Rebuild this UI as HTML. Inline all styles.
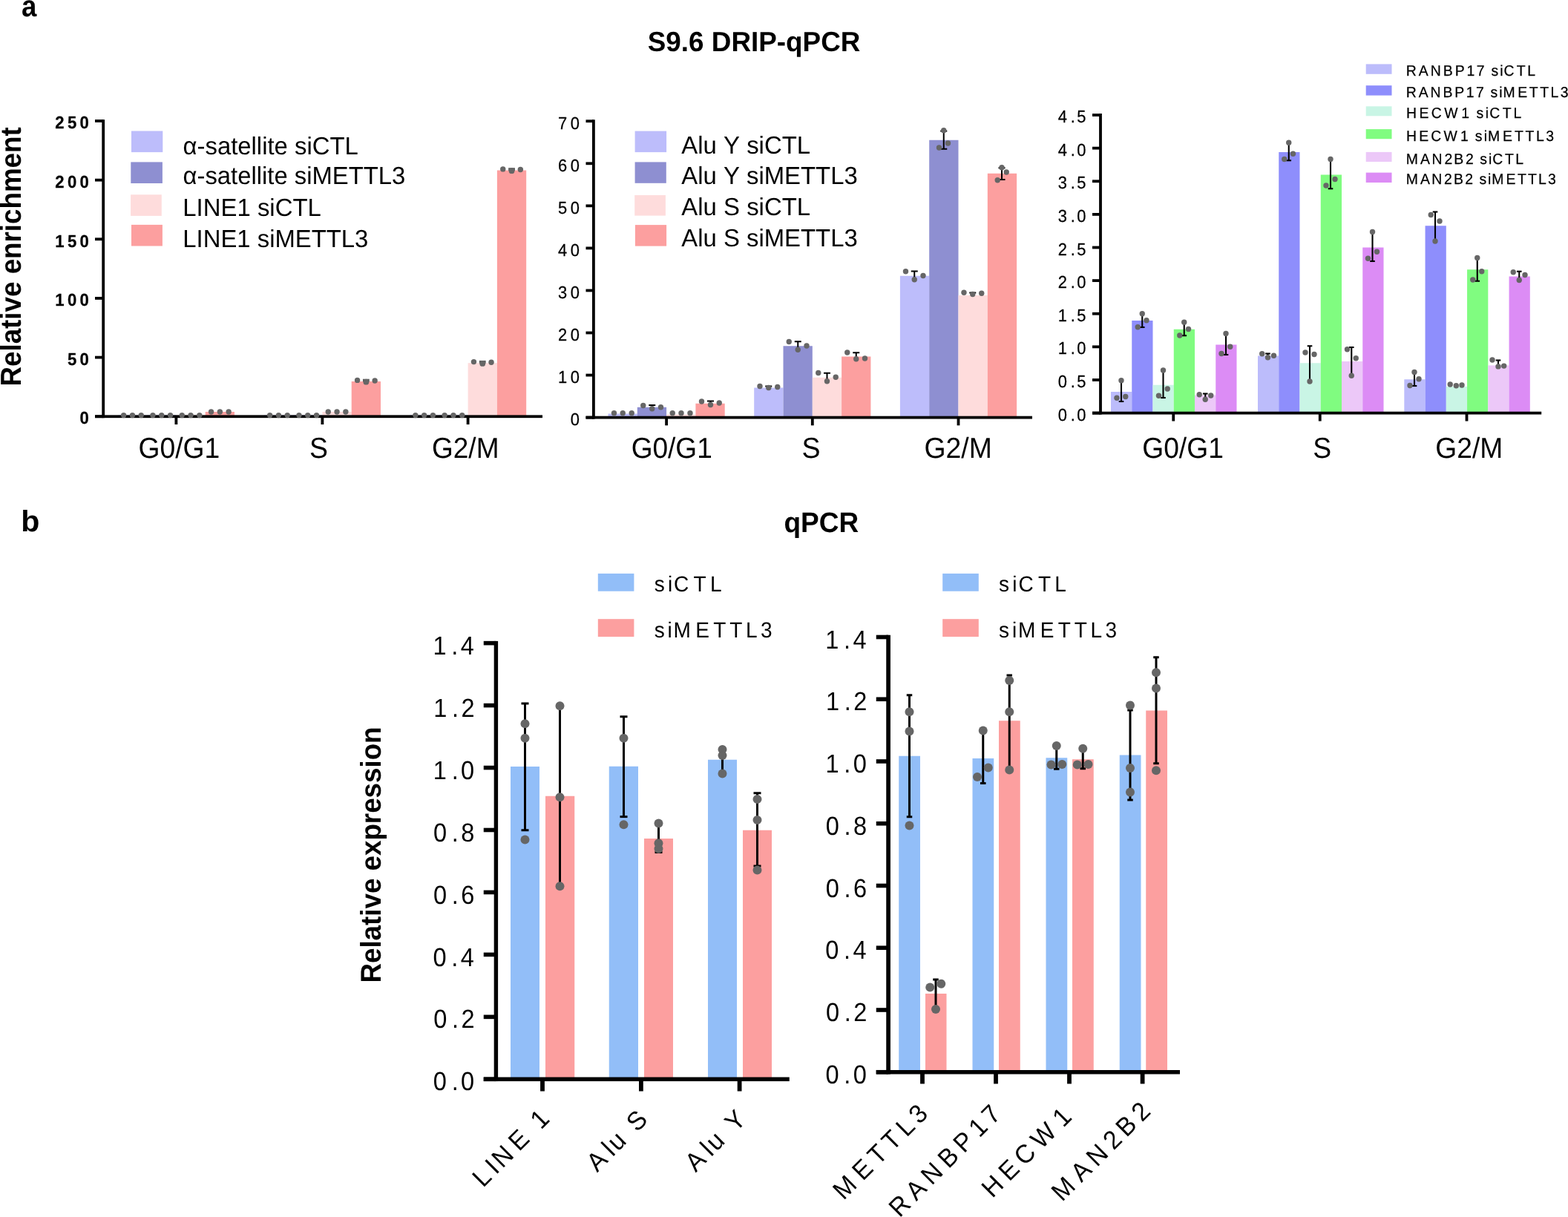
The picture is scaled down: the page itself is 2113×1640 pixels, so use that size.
<!DOCTYPE html>
<html lang="en">
<head>
<meta charset="utf-8">
<title>S9.6 DRIP-qPCR and qPCR</title>
<style>
html,body{margin:0;padding:0;background:#fff;}
body{width:2113px;height:1640px;overflow:hidden;}
svg{display:block;font-family:'Liberation Sans',Arial,Helvetica,sans-serif;fill:#000;font-kerning:none;text-rendering:geometricPrecision;}
text.s{stroke:#000;stroke-width:0.25px;stroke-linejoin:round;}
</style>
</head>
<body>
<svg width="2113" height="1640" viewBox="0 0 2113 1640">
<rect x="0" y="0" width="2113" height="1640" fill="#ffffff"/>
<text transform="translate(28.9 21.9) scale(0.9064 1)" font-size="40.4" font-weight="bold">a</text>
<text transform="translate(28.32 716.4) scale(1.0246 1)" font-size="40.2" font-weight="bold">b</text>
<text transform="translate(872.79 68.7) scale(0.9802 1)" font-size="37.6" font-weight="bold">S9.6 DRIP-qPCR</text>
<text transform="translate(1056.42 717) scale(0.9735 1)" font-size="38" font-weight="bold">qPCR</text>
<rect x="158.8" y="559.5" width="39.3" height="1.75" fill="#BDBDFB"/>
<rect x="198.1" y="559.5" width="39.3" height="1.75" fill="#8E8FD1"/>
<rect x="237.4" y="559.5" width="39.3" height="1.75" fill="#FEDCDC"/>
<rect x="276.7" y="555" width="39.3" height="6.25" fill="#FC9F9F"/>
<rect x="355.8" y="559.5" width="39.3" height="1.75" fill="#BDBDFB"/>
<rect x="395.1" y="559.5" width="39.3" height="1.75" fill="#8E8FD1"/>
<rect x="434.4" y="555" width="39.3" height="6.25" fill="#FEDCDC"/>
<rect x="473.7" y="514" width="39.3" height="47.25" fill="#FC9F9F"/>
<rect x="552" y="559.5" width="39.3" height="1.75" fill="#BDBDFB"/>
<rect x="591.3" y="559.5" width="39.3" height="1.75" fill="#8E8FD1"/>
<rect x="630.6" y="489.2" width="39.3" height="72.05" fill="#FEDCDC"/>
<rect x="669.9" y="229.5" width="39.3" height="331.75" fill="#FC9F9F"/>
<rect x="137.3" y="161.2" width="3.8" height="401.95" fill="#000"/>
<rect x="128" y="559.35" width="603" height="3.8" fill="#000"/>
<rect x="128" y="559.35" width="11.2" height="3.8" fill="#000"/>
<text class="s" transform="translate(107.5 571.45) scale(0.9500 1)" font-size="23.3" font-weight="bold" x="0">0</text>
<rect x="128" y="479.7" width="11.2" height="3.8" fill="#000"/>
<text class="s" transform="translate(90.91 491.8) scale(0.9500 1)" font-size="23.3" font-weight="bold" x="0 17.46">50</text>
<rect x="128" y="400.05" width="11.2" height="3.8" fill="#000"/>
<text class="s" transform="translate(74.33 412.15) scale(0.9500 1)" font-size="23.3" font-weight="bold" x="0 17.46 34.92">100</text>
<rect x="128" y="320.4" width="11.2" height="3.8" fill="#000"/>
<text class="s" transform="translate(74.33 332.5) scale(0.9500 1)" font-size="23.3" font-weight="bold" x="0 17.46 34.92">150</text>
<rect x="128" y="240.75" width="11.2" height="3.8" fill="#000"/>
<text class="s" transform="translate(74.33 252.85) scale(0.9500 1)" font-size="23.3" font-weight="bold" x="0 17.46 34.92">200</text>
<rect x="128" y="161.1" width="11.2" height="3.8" fill="#000"/>
<text class="s" transform="translate(74.33 173.2) scale(0.9500 1)" font-size="23.3" font-weight="bold" x="0 17.46 34.92">250</text>
<rect x="235.5" y="561.25" width="3.8" height="10.75" fill="#000"/>
<rect x="432.5" y="561.25" width="3.8" height="10.75" fill="#000"/>
<rect x="628.7" y="561.25" width="3.8" height="10.75" fill="#000"/>
<circle cx="166.65" cy="559.6" r="3.7" fill="#666666"/>
<circle cx="178.45" cy="559.6" r="3.7" fill="#666666"/>
<circle cx="190.25" cy="559.6" r="3.7" fill="#666666"/>
<circle cx="205.95" cy="559.6" r="3.7" fill="#666666"/>
<circle cx="217.75" cy="559.6" r="3.7" fill="#666666"/>
<circle cx="229.55" cy="559.6" r="3.7" fill="#666666"/>
<circle cx="245.25" cy="559.6" r="3.7" fill="#666666"/>
<circle cx="257.05" cy="559.6" r="3.7" fill="#666666"/>
<circle cx="268.85" cy="559.6" r="3.7" fill="#666666"/>
<circle cx="284.55" cy="555" r="3.7" fill="#666666"/>
<circle cx="296.35" cy="555" r="3.7" fill="#666666"/>
<circle cx="308.15" cy="555" r="3.7" fill="#666666"/>
<circle cx="363.65" cy="559.6" r="3.7" fill="#666666"/>
<circle cx="375.45" cy="559.6" r="3.7" fill="#666666"/>
<circle cx="387.25" cy="559.6" r="3.7" fill="#666666"/>
<circle cx="402.95" cy="559.6" r="3.7" fill="#666666"/>
<circle cx="414.75" cy="559.6" r="3.7" fill="#666666"/>
<circle cx="426.55" cy="559.6" r="3.7" fill="#666666"/>
<circle cx="442.25" cy="555" r="3.7" fill="#666666"/>
<circle cx="454.05" cy="555" r="3.7" fill="#666666"/>
<circle cx="465.85" cy="555" r="3.7" fill="#666666"/>
<circle cx="481.55" cy="512.4" r="3.7" fill="#666666"/>
<rect x="488.95" y="510.7" width="8.8" height="3.9" fill="#5c5c5c"/>
<circle cx="493.35" cy="514.7" r="3.9" fill="#666666"/>
<circle cx="505.15" cy="513" r="3.7" fill="#666666"/>
<circle cx="559.85" cy="559.6" r="3.7" fill="#666666"/>
<circle cx="571.65" cy="559.6" r="3.7" fill="#666666"/>
<circle cx="583.45" cy="559.6" r="3.7" fill="#666666"/>
<circle cx="599.15" cy="559.6" r="3.7" fill="#666666"/>
<circle cx="610.95" cy="559.6" r="3.7" fill="#666666"/>
<circle cx="622.75" cy="559.6" r="3.7" fill="#666666"/>
<circle cx="638.45" cy="487.6" r="3.7" fill="#666666"/>
<rect x="645.85" y="485.9" width="8.8" height="3.9" fill="#5c5c5c"/>
<circle cx="650.25" cy="489.9" r="3.9" fill="#666666"/>
<circle cx="662.05" cy="488.2" r="3.7" fill="#666666"/>
<circle cx="677.75" cy="227.9" r="3.7" fill="#666666"/>
<rect x="685.15" y="226.2" width="8.8" height="3.9" fill="#5c5c5c"/>
<circle cx="689.55" cy="230.2" r="3.9" fill="#666666"/>
<circle cx="701.35" cy="228.5" r="3.7" fill="#666666"/>
<text transform="translate(186.54 617.2) scale(0.9549 1)" font-size="39">G0/G1</text>
<text transform="translate(417.02 617.2) scale(0.9588 1)" font-size="39">S</text>
<text transform="translate(582.05 617.2) scale(0.9479 1)" font-size="39">G2/M</text>
<rect x="177" y="176.5" width="42.3" height="28.6" fill="#BDBDFB"/>
<text transform="translate(246.5 207.5) scale(0.9871 1)" font-size="33.3">α-satellite siCTL</text>
<rect x="176.3" y="218.4" width="42.6" height="28.6" fill="#8E8FD1"/>
<text transform="translate(246.51 248.2) scale(0.9857 1)" font-size="33.3">α-satellite siMETTL3</text>
<rect x="176.1" y="262.3" width="41.7" height="28.6" fill="#FEDCDC"/>
<text transform="translate(246.28 290.6) scale(0.9886 1)" font-size="33.3">LINE1 siCTL</text>
<rect x="177" y="302.9" width="41.9" height="28.6" fill="#FC9F9F"/>
<text transform="translate(246.29 332.8) scale(0.9865 1)" font-size="33.3">LINE1 siMETTL3</text>
<text transform="translate(27.96 520.48) rotate(-90) scale(0.9420 1)" font-size="39" font-weight="bold">Relative enrichment</text>
<rect x="819.5" y="557.5" width="39.3" height="5.1" fill="#BDBDFB"/>
<rect x="858.8" y="548.75" width="39.3" height="13.85" fill="#8E8FD1"/>
<rect x="898.1" y="558.5" width="39.3" height="4.1" fill="#FEDCDC"/>
<rect x="937.4" y="543.75" width="39.3" height="18.85" fill="#FC9F9F"/>
<rect x="1016.2" y="522.5" width="39.3" height="40.1" fill="#BDBDFB"/>
<rect x="1055.5" y="466.25" width="39.3" height="96.35" fill="#8E8FD1"/>
<rect x="1094.8" y="508.75" width="39.3" height="53.85" fill="#FEDCDC"/>
<rect x="1134.1" y="480.5" width="39.3" height="82.1" fill="#FC9F9F"/>
<rect x="1212.9" y="371.75" width="39.3" height="190.85" fill="#BDBDFB"/>
<rect x="1252.2" y="188.75" width="39.3" height="373.85" fill="#8E8FD1"/>
<rect x="1291.5" y="398" width="39.3" height="164.6" fill="#FEDCDC"/>
<rect x="1330.8" y="233.75" width="39.3" height="328.85" fill="#FC9F9F"/>
<rect x="798" y="161.3" width="3.8" height="403.2" fill="#000"/>
<rect x="789.5" y="560.7" width="601.5" height="3.8" fill="#000"/>
<rect x="789.5" y="560.7" width="10.4" height="3.8" fill="#000"/>
<text class="s" transform="translate(768.87 572.9) scale(0.9400 1)" font-size="23.3" x="0">0</text>
<rect x="789.5" y="503.65" width="10.4" height="3.8" fill="#000"/>
<text class="s" transform="translate(752.05 515.85) scale(0.9400 1)" font-size="23.3" x="0 17.89">10</text>
<rect x="789.5" y="446.6" width="10.4" height="3.8" fill="#000"/>
<text class="s" transform="translate(752.05 458.8) scale(0.9400 1)" font-size="23.3" x="0 17.89">20</text>
<rect x="789.5" y="389.55" width="10.4" height="3.8" fill="#000"/>
<text class="s" transform="translate(752.05 401.75) scale(0.9400 1)" font-size="23.3" x="0 17.89">30</text>
<rect x="789.5" y="332.5" width="10.4" height="3.8" fill="#000"/>
<text class="s" transform="translate(752.05 344.7) scale(0.9400 1)" font-size="23.3" x="0 17.89">40</text>
<rect x="789.5" y="275.45" width="10.4" height="3.8" fill="#000"/>
<text class="s" transform="translate(752.05 287.65) scale(0.9400 1)" font-size="23.3" x="0 17.89">50</text>
<rect x="789.5" y="218.4" width="10.4" height="3.8" fill="#000"/>
<text class="s" transform="translate(752.05 230.6) scale(0.9400 1)" font-size="23.3" x="0 17.89">60</text>
<rect x="789.5" y="161.35" width="10.4" height="3.8" fill="#000"/>
<text class="s" transform="translate(752.05 173.55) scale(0.9400 1)" font-size="23.3" x="0 17.89">70</text>
<rect x="896.2" y="562.6" width="3.8" height="10.7" fill="#000"/>
<rect x="1092.9" y="562.6" width="3.8" height="10.7" fill="#000"/>
<rect x="1289.6" y="562.6" width="3.8" height="10.7" fill="#000"/>
<circle cx="827.5" cy="556.75" r="3.7" fill="#666666"/>
<circle cx="839.25" cy="556.75" r="3.7" fill="#666666"/>
<circle cx="851.25" cy="556.75" r="3.7" fill="#666666"/>
<line x1="878.75" y1="546" x2="878.75" y2="550.75" stroke="#000" stroke-width="2.0"/>
<line x1="874.25" y1="546" x2="883.25" y2="546" stroke="#000" stroke-width="2.0"/>
<circle cx="866.75" cy="546.5" r="3.7" fill="#666666"/>
<circle cx="878.75" cy="550.75" r="3.7" fill="#666666"/>
<circle cx="890.5" cy="548.75" r="3.7" fill="#666666"/>
<circle cx="906.25" cy="556.75" r="3.7" fill="#666666"/>
<circle cx="918" cy="556.75" r="3.7" fill="#666666"/>
<circle cx="930" cy="556.75" r="3.7" fill="#666666"/>
<line x1="957.5" y1="540.5" x2="957.5" y2="545.5" stroke="#000" stroke-width="2.0"/>
<line x1="953" y1="540.5" x2="962" y2="540.5" stroke="#000" stroke-width="2.0"/>
<circle cx="945.5" cy="541" r="3.7" fill="#666666"/>
<circle cx="957.5" cy="545.5" r="3.7" fill="#666666"/>
<circle cx="969.25" cy="543" r="3.7" fill="#666666"/>
<line x1="1035.75" y1="520.5" x2="1035.75" y2="522.5" stroke="#000" stroke-width="2.0"/>
<line x1="1031.25" y1="520.5" x2="1040.25" y2="520.5" stroke="#000" stroke-width="2.0"/>
<circle cx="1024" cy="520.5" r="3.7" fill="#666666"/>
<circle cx="1035.75" cy="522.5" r="3.7" fill="#666666"/>
<circle cx="1047.75" cy="521.5" r="3.7" fill="#666666"/>
<line x1="1075.25" y1="460.25" x2="1075.25" y2="471.25" stroke="#000" stroke-width="2.0"/>
<line x1="1070.75" y1="460.25" x2="1079.75" y2="460.25" stroke="#000" stroke-width="2.0"/>
<circle cx="1063.25" cy="460.5" r="3.7" fill="#666666"/>
<circle cx="1075.25" cy="471.25" r="3.7" fill="#666666"/>
<circle cx="1087" cy="466" r="3.7" fill="#666666"/>
<line x1="1114.5" y1="502.75" x2="1114.5" y2="513.75" stroke="#000" stroke-width="2.0"/>
<line x1="1110" y1="502.75" x2="1119" y2="502.75" stroke="#000" stroke-width="2.0"/>
<circle cx="1102.75" cy="502.5" r="3.7" fill="#666666"/>
<circle cx="1114.5" cy="513.75" r="3.7" fill="#666666"/>
<circle cx="1126.25" cy="508.25" r="3.7" fill="#666666"/>
<line x1="1153.75" y1="475.25" x2="1153.75" y2="483.75" stroke="#000" stroke-width="2.0"/>
<line x1="1149.25" y1="475.25" x2="1158.25" y2="475.25" stroke="#000" stroke-width="2.0"/>
<circle cx="1141.75" cy="475" r="3.7" fill="#666666"/>
<circle cx="1153.75" cy="483.75" r="3.7" fill="#666666"/>
<circle cx="1165.5" cy="483" r="3.7" fill="#666666"/>
<line x1="1232.25" y1="365.5" x2="1232.25" y2="376.75" stroke="#000" stroke-width="2.0"/>
<line x1="1227.75" y1="365.5" x2="1236.75" y2="365.5" stroke="#000" stroke-width="2.0"/>
<circle cx="1220.5" cy="365.75" r="3.7" fill="#666666"/>
<circle cx="1232.25" cy="376.75" r="3.7" fill="#666666"/>
<circle cx="1244" cy="371.5" r="3.7" fill="#666666"/>
<line x1="1271.75" y1="176.6" x2="1271.75" y2="200.75" stroke="#000" stroke-width="2.0"/>
<line x1="1267.25" y1="176.6" x2="1276.25" y2="176.6" stroke="#000" stroke-width="2.0"/>
<line x1="1267.25" y1="200.75" x2="1276.25" y2="200.75" stroke="#000" stroke-width="2.0"/>
<circle cx="1271.75" cy="175.75" r="3.7" fill="#666666"/>
<circle cx="1265.5" cy="199" r="3.7" fill="#666666"/>
<circle cx="1277.5" cy="193" r="3.7" fill="#666666"/>
<line x1="1310.75" y1="394.5" x2="1310.75" y2="396.5" stroke="#000" stroke-width="2.0"/>
<line x1="1306.25" y1="394.5" x2="1315.25" y2="394.5" stroke="#000" stroke-width="2.0"/>
<circle cx="1299" cy="394.25" r="3.7" fill="#666666"/>
<circle cx="1310.75" cy="396.5" r="3.7" fill="#666666"/>
<circle cx="1322.75" cy="395.25" r="3.7" fill="#666666"/>
<line x1="1350" y1="226.3" x2="1350" y2="242" stroke="#000" stroke-width="2.0"/>
<line x1="1345.5" y1="226.3" x2="1354.5" y2="226.3" stroke="#000" stroke-width="2.0"/>
<line x1="1345.5" y1="242" x2="1354.5" y2="242" stroke="#000" stroke-width="2.0"/>
<circle cx="1350" cy="225.75" r="3.7" fill="#666666"/>
<circle cx="1356.25" cy="232" r="3.7" fill="#666666"/>
<circle cx="1344.25" cy="242.75" r="3.7" fill="#666666"/>
<text transform="translate(850.65 617.2) scale(0.9501 1)" font-size="39">G0/G1</text>
<text transform="translate(1080.41 617.2) scale(0.9632 1)" font-size="39">S</text>
<text transform="translate(1245.43 617.2) scale(0.9579 1)" font-size="39">G2/M</text>
<rect x="855.6" y="176.6" width="42.5" height="28.5" fill="#BDBDFB"/>
<text transform="translate(918.32 206.8) scale(0.9887 1)" font-size="33.3">Alu Y siCTL</text>
<rect x="855.6" y="218.4" width="42.2" height="28.4" fill="#8E8FD1"/>
<text transform="translate(918.32 247.6) scale(0.9869 1)" font-size="33.3">Alu Y siMETTL3</text>
<rect x="855.2" y="263" width="41.7" height="27.6" fill="#FEDCDC"/>
<text transform="translate(918.32 290) scale(0.9887 1)" font-size="33.3">Alu S siCTL</text>
<rect x="855.9" y="303.1" width="42.2" height="28.5" fill="#FC9F9F"/>
<text transform="translate(918.32 332.2) scale(0.9869 1)" font-size="33.3">Alu S siMETTL3</text>
<rect x="1497" y="528" width="28.25" height="28.6" fill="#BCBCFB"/>
<rect x="1525.25" y="432" width="28.25" height="124.6" fill="#8E8EFC"/>
<rect x="1553.5" y="518.75" width="28.25" height="37.85" fill="#C9F5E5"/>
<rect x="1581.75" y="443.75" width="28.25" height="112.85" fill="#80FC80"/>
<rect x="1610" y="532.5" width="28.25" height="24.1" fill="#ECC8F8"/>
<rect x="1638.25" y="464.5" width="28.25" height="92.1" fill="#DC8CF5"/>
<rect x="1695" y="479.5" width="28.25" height="77.1" fill="#BCBCFB"/>
<rect x="1723.25" y="205" width="28.25" height="351.6" fill="#8E8EFC"/>
<rect x="1751.5" y="489.25" width="28.25" height="67.35" fill="#C9F5E5"/>
<rect x="1779.75" y="235.5" width="28.25" height="321.1" fill="#80FC80"/>
<rect x="1808" y="487" width="28.25" height="69.6" fill="#ECC8F8"/>
<rect x="1836.25" y="333.5" width="28.25" height="223.1" fill="#DC8CF5"/>
<rect x="1892.3" y="511.25" width="28.25" height="45.35" fill="#BCBCFB"/>
<rect x="1920.55" y="304.25" width="28.25" height="252.35" fill="#8E8EFC"/>
<rect x="1948.8" y="521" width="28.25" height="35.6" fill="#C9F5E5"/>
<rect x="1977.05" y="363.25" width="28.25" height="193.35" fill="#80FC80"/>
<rect x="2005.3" y="492.4" width="28.25" height="64.2" fill="#ECC8F8"/>
<rect x="2033.55" y="372.5" width="28.25" height="184.1" fill="#DC8CF5"/>
<rect x="1481.1" y="153" width="3.8" height="405.5" fill="#000"/>
<rect x="1472" y="554.7" width="605.2" height="3.8" fill="#000"/>
<rect x="1472" y="554.7" width="11" height="3.8" fill="#000"/>
<text class="s" transform="translate(1425.75 566.6) scale(0.9400 1)" font-size="23.3" x="0 18.02 27.04">0.0</text>
<rect x="1472" y="510.08" width="11" height="3.8" fill="#000"/>
<text class="s" transform="translate(1425.81 521.98) scale(0.9400 1)" font-size="23.3" x="0 18.02 27.04">0.5</text>
<rect x="1472" y="465.46" width="11" height="3.8" fill="#000"/>
<text class="s" transform="translate(1425.75 477.36) scale(0.9400 1)" font-size="23.3" x="0 18.02 27.04">1.0</text>
<rect x="1472" y="420.84" width="11" height="3.8" fill="#000"/>
<text class="s" transform="translate(1425.81 432.74) scale(0.9400 1)" font-size="23.3" x="0 18.02 27.04">1.5</text>
<rect x="1472" y="376.22" width="11" height="3.8" fill="#000"/>
<text class="s" transform="translate(1425.75 388.12) scale(0.9400 1)" font-size="23.3" x="0 18.02 27.04">2.0</text>
<rect x="1472" y="331.6" width="11" height="3.8" fill="#000"/>
<text class="s" transform="translate(1425.81 343.5) scale(0.9400 1)" font-size="23.3" x="0 18.02 27.04">2.5</text>
<rect x="1472" y="286.98" width="11" height="3.8" fill="#000"/>
<text class="s" transform="translate(1425.75 298.88) scale(0.9400 1)" font-size="23.3" x="0 18.02 27.04">3.0</text>
<rect x="1472" y="242.36" width="11" height="3.8" fill="#000"/>
<text class="s" transform="translate(1425.81 254.26) scale(0.9400 1)" font-size="23.3" x="0 18.02 27.04">3.5</text>
<rect x="1472" y="197.74" width="11" height="3.8" fill="#000"/>
<text class="s" transform="translate(1425.75 209.64) scale(0.9400 1)" font-size="23.3" x="0 18.02 27.04">4.0</text>
<rect x="1472" y="153.12" width="11" height="3.8" fill="#000"/>
<text class="s" transform="translate(1425.81 165.02) scale(0.9400 1)" font-size="23.3" x="0 18.02 27.04">4.5</text>
<rect x="1579.35" y="556.6" width="3.8" height="10.9" fill="#000"/>
<rect x="1776.85" y="556.6" width="3.8" height="10.9" fill="#000"/>
<rect x="1974.6" y="556.6" width="3.8" height="10.9" fill="#000"/>
<line x1="1511" y1="512.75" x2="1511" y2="541" stroke="#000" stroke-width="2.1"/>
<line x1="1507.7" y1="541" x2="1514.3" y2="541" stroke="#000" stroke-width="2.1"/>
<circle cx="1511" cy="512.75" r="3.7" fill="#666666"/>
<circle cx="1505" cy="536.25" r="3.7" fill="#666666"/>
<circle cx="1516.75" cy="534.5" r="3.7" fill="#666666"/>
<line x1="1539.25" y1="422.75" x2="1539.25" y2="441" stroke="#000" stroke-width="2.1"/>
<line x1="1535.95" y1="441" x2="1542.55" y2="441" stroke="#000" stroke-width="2.1"/>
<circle cx="1539.25" cy="422.75" r="3.7" fill="#666666"/>
<circle cx="1533.25" cy="440.75" r="3.7" fill="#666666"/>
<circle cx="1545" cy="431.75" r="3.7" fill="#666666"/>
<line x1="1567.5" y1="499" x2="1567.5" y2="536" stroke="#000" stroke-width="2.1"/>
<line x1="1564.2" y1="536" x2="1570.8" y2="536" stroke="#000" stroke-width="2.1"/>
<circle cx="1567.5" cy="499" r="3.7" fill="#666666"/>
<circle cx="1561.5" cy="533.25" r="3.7" fill="#666666"/>
<circle cx="1573.25" cy="524" r="3.7" fill="#666666"/>
<line x1="1595.75" y1="434.25" x2="1595.75" y2="452.25" stroke="#000" stroke-width="2.1"/>
<line x1="1592.45" y1="452.25" x2="1599.05" y2="452.25" stroke="#000" stroke-width="2.1"/>
<circle cx="1595.75" cy="434.25" r="3.7" fill="#666666"/>
<circle cx="1589.75" cy="452" r="3.7" fill="#666666"/>
<circle cx="1601.5" cy="443.5" r="3.7" fill="#666666"/>
<line x1="1624.25" y1="530.5" x2="1624.25" y2="538" stroke="#000" stroke-width="2.1"/>
<line x1="1620.95" y1="530.5" x2="1627.55" y2="530.5" stroke="#000" stroke-width="2.1"/>
<circle cx="1616.25" cy="531.75" r="3.7" fill="#666666"/>
<circle cx="1624.25" cy="538.25" r="3.7" fill="#666666"/>
<circle cx="1631.75" cy="533" r="3.7" fill="#666666"/>
<line x1="1652" y1="449.5" x2="1652" y2="478" stroke="#000" stroke-width="2.1"/>
<line x1="1648.7" y1="478" x2="1655.3" y2="478" stroke="#000" stroke-width="2.1"/>
<circle cx="1652" cy="449.5" r="3.7" fill="#666666"/>
<circle cx="1646" cy="476.5" r="3.7" fill="#666666"/>
<circle cx="1657.75" cy="467.25" r="3.7" fill="#666666"/>
<line x1="1708.5" y1="476.5" x2="1708.5" y2="481.75" stroke="#000" stroke-width="2.1"/>
<line x1="1705.2" y1="476.5" x2="1711.8" y2="476.5" stroke="#000" stroke-width="2.1"/>
<circle cx="1700.75" cy="476.75" r="3.7" fill="#666666"/>
<circle cx="1708.5" cy="481.75" r="3.7" fill="#666666"/>
<circle cx="1716.5" cy="479.25" r="3.7" fill="#666666"/>
<line x1="1736.75" y1="192.25" x2="1736.75" y2="216.25" stroke="#000" stroke-width="2.1"/>
<line x1="1733.45" y1="216.25" x2="1740.05" y2="216.25" stroke="#000" stroke-width="2.1"/>
<circle cx="1736.75" cy="192.25" r="3.7" fill="#666666"/>
<circle cx="1730.75" cy="214.5" r="3.7" fill="#666666"/>
<circle cx="1742.5" cy="207.25" r="3.7" fill="#666666"/>
<line x1="1765" y1="466.25" x2="1765" y2="514" stroke="#000" stroke-width="2.1"/>
<line x1="1761.7" y1="466.25" x2="1768.3" y2="466.25" stroke="#000" stroke-width="2.1"/>
<circle cx="1759" cy="475" r="3.7" fill="#666666"/>
<circle cx="1771" cy="477.5" r="3.7" fill="#666666"/>
<circle cx="1765" cy="514" r="3.7" fill="#666666"/>
<line x1="1793" y1="214.5" x2="1793" y2="254.25" stroke="#000" stroke-width="2.1"/>
<line x1="1789.7" y1="254.25" x2="1796.3" y2="254.25" stroke="#000" stroke-width="2.1"/>
<circle cx="1793" cy="214.5" r="3.7" fill="#666666"/>
<circle cx="1787" cy="250" r="3.7" fill="#666666"/>
<circle cx="1799" cy="241.5" r="3.7" fill="#666666"/>
<line x1="1821.25" y1="468" x2="1821.25" y2="506" stroke="#000" stroke-width="2.1"/>
<line x1="1817.95" y1="468" x2="1824.55" y2="468" stroke="#000" stroke-width="2.1"/>
<circle cx="1815.5" cy="470.75" r="3.7" fill="#666666"/>
<circle cx="1827.25" cy="482.75" r="3.7" fill="#666666"/>
<circle cx="1821.25" cy="506.25" r="3.7" fill="#666666"/>
<line x1="1849.5" y1="312.5" x2="1849.5" y2="352" stroke="#000" stroke-width="2.1"/>
<line x1="1846.2" y1="352" x2="1852.8" y2="352" stroke="#000" stroke-width="2.1"/>
<circle cx="1849.5" cy="312.5" r="3.7" fill="#666666"/>
<circle cx="1843.5" cy="348.25" r="3.7" fill="#666666"/>
<circle cx="1855.5" cy="339.25" r="3.7" fill="#666666"/>
<line x1="1906" y1="501.5" x2="1906" y2="520" stroke="#000" stroke-width="2.1"/>
<line x1="1902.7" y1="520" x2="1909.3" y2="520" stroke="#000" stroke-width="2.1"/>
<circle cx="1906" cy="501.5" r="3.7" fill="#666666"/>
<circle cx="1900" cy="519.5" r="3.7" fill="#666666"/>
<circle cx="1912" cy="510.75" r="3.7" fill="#666666"/>
<line x1="1934" y1="285.5" x2="1934" y2="325" stroke="#000" stroke-width="2.1"/>
<line x1="1930.7" y1="285.5" x2="1937.3" y2="285.5" stroke="#000" stroke-width="2.1"/>
<circle cx="1928.25" cy="289.5" r="3.7" fill="#666666"/>
<circle cx="1940" cy="298" r="3.7" fill="#666666"/>
<circle cx="1934" cy="325" r="3.7" fill="#666666"/>
<circle cx="1954.2" cy="518" r="3.7" fill="#666666"/>
<circle cx="1962.3" cy="519.8" r="3.7" fill="#666666"/>
<circle cx="1970" cy="519" r="3.7" fill="#666666"/>
<line x1="1990.75" y1="347.5" x2="1990.75" y2="378.75" stroke="#000" stroke-width="2.1"/>
<line x1="1987.45" y1="378.75" x2="1994.05" y2="378.75" stroke="#000" stroke-width="2.1"/>
<circle cx="1990.75" cy="347.5" r="3.7" fill="#666666"/>
<circle cx="1984.75" cy="377" r="3.7" fill="#666666"/>
<circle cx="1996.75" cy="365.75" r="3.7" fill="#666666"/>
<line x1="2019" y1="485.5" x2="2019" y2="493.9" stroke="#000" stroke-width="2.1"/>
<line x1="2015.7" y1="485.5" x2="2022.3" y2="485.5" stroke="#000" stroke-width="2.1"/>
<circle cx="2011" cy="485" r="3.7" fill="#666666"/>
<circle cx="2019" cy="493.9" r="3.7" fill="#666666"/>
<circle cx="2026.7" cy="493.1" r="3.7" fill="#666666"/>
<line x1="2047.25" y1="365.75" x2="2047.25" y2="377.5" stroke="#000" stroke-width="2.1"/>
<line x1="2043.95" y1="365.75" x2="2050.55" y2="365.75" stroke="#000" stroke-width="2.1"/>
<circle cx="2039.25" cy="366.75" r="3.7" fill="#666666"/>
<circle cx="2047.25" cy="377.5" r="3.7" fill="#666666"/>
<circle cx="2055" cy="370.5" r="3.7" fill="#666666"/>
<text transform="translate(1539.24 617.2) scale(0.9539 1)" font-size="39">G0/G1</text>
<text transform="translate(1769.22 617.2) scale(0.9588 1)" font-size="39">S</text>
<text transform="translate(1934.34 617.2) scale(0.9535 1)" font-size="39">G2/M</text>
<rect x="1840.7" y="86.4" width="34.8" height="13.4" fill="#BCBCFB"/>
<text class="s" transform="translate(1894.7 101.8) scale(0.9700 1)" font-size="20" x="0 17.68 34.02 51.7 68.04 84.37 97.96 111.54 118.33 130.57 136.01 153.69 168.62">RANBP17 siCTL</text>
<rect x="1840.7" y="115.2" width="34.8" height="13.4" fill="#8E8EFC"/>
<text class="s" transform="translate(1894.7 131) scale(0.9700 1)" font-size="20" x="0 17.54 33.74 51.28 67.48 83.68 97.15 110.62 117.36 129.5 134.9 155.1 171.31 186.11 200.92 214.39">RANBP17 siMETTL3</text>
<rect x="1840.7" y="143.3" width="34.8" height="13" fill="#C9F5E5"/>
<text class="s" transform="translate(1895 159) scale(0.9700 1)" font-size="20" x="0 18.11 34.85 52.96 76.65 90.56 97.52 110.05 115.63 133.74 149.04">HECW1 siCTL</text>
<rect x="1840.7" y="174.1" width="34.8" height="13.1" fill="#80FC80"/>
<text class="s" transform="translate(1895 189.8) scale(0.9700 1)" font-size="20" x="0 17.78 34.2 51.98 75.23 88.89 95.72 108.02 113.5 133.98 150.4 165.41 180.42 194.08">HECW1 siMETTL3</text>
<rect x="1840.7" y="204.9" width="34.8" height="13.1" fill="#ECC8F8"/>
<text class="s" transform="translate(1894.7 220.6) scale(0.9700 1)" font-size="20" x="0 19.99 36.01 53.36 66.68 82.7 96.03 102.69 114.69 120.04 137.38 152.02">MAN2B2 siCTL</text>
<rect x="1840.7" y="232.6" width="34.8" height="13.4" fill="#DC8CF5"/>
<text class="s" transform="translate(1894.7 248.2) scale(0.9700 1)" font-size="20" x="0 19.84 35.74 52.96 66.18 82.09 95.31 101.92 113.84 119.14 138.97 154.88 169.41 183.95 197.17">MAN2B2 siMETTL3</text>
<rect x="688" y="1033" width="39" height="421.3" fill="#92BEF8"/>
<rect x="735" y="1072.75" width="39.25" height="381.55" fill="#FC9F9F"/>
<rect x="820.75" y="1032.75" width="39.25" height="421.55" fill="#92BEF8"/>
<rect x="868" y="1130" width="39" height="324.3" fill="#FC9F9F"/>
<rect x="954" y="1023.75" width="39" height="430.55" fill="#92BEF8"/>
<rect x="1001" y="1118.75" width="39" height="335.55" fill="#FC9F9F"/>
<rect x="665.7" y="863.9" width="5.4" height="593.15" fill="#000"/>
<rect x="651.75" y="1451.55" width="412" height="5.5" fill="#000"/>
<rect x="651.75" y="1451.5" width="16.65" height="5.6" fill="#000"/>
<text transform="translate(583.78 1469.4) scale(0.9300 1)" font-size="35" x="0 26.72 40.08">0.0</text>
<rect x="651.75" y="1367.55" width="16.65" height="5.6" fill="#000"/>
<text transform="translate(584.18 1385.45) scale(0.9300 1)" font-size="35" x="0 26.72 40.08">0.2</text>
<rect x="651.75" y="1283.6" width="16.65" height="5.6" fill="#000"/>
<text transform="translate(583.45 1301.5) scale(0.9300 1)" font-size="35" x="0 26.72 40.08">0.4</text>
<rect x="651.75" y="1199.65" width="16.65" height="5.6" fill="#000"/>
<text transform="translate(583.94 1217.55) scale(0.9300 1)" font-size="35" x="0 26.72 40.08">0.6</text>
<rect x="651.75" y="1115.7" width="16.65" height="5.6" fill="#000"/>
<text transform="translate(583.94 1133.6) scale(0.9300 1)" font-size="35" x="0 26.72 40.08">0.8</text>
<rect x="651.75" y="1031.75" width="16.65" height="5.6" fill="#000"/>
<text transform="translate(583.78 1049.65) scale(0.9300 1)" font-size="35" x="0 26.72 40.08">1.0</text>
<rect x="651.75" y="947.8" width="16.65" height="5.6" fill="#000"/>
<text transform="translate(584.18 965.7) scale(0.9300 1)" font-size="35" x="0 26.72 40.08">1.2</text>
<rect x="651.75" y="863.85" width="16.65" height="5.6" fill="#000"/>
<text transform="translate(583.45 881.75) scale(0.9300 1)" font-size="35" x="0 26.72 40.08">1.4</text>
<rect x="728.1" y="1454.3" width="5.8" height="16.2" fill="#000"/>
<rect x="861" y="1454.3" width="5.8" height="16.2" fill="#000"/>
<rect x="993.7" y="1454.3" width="5.8" height="16.2" fill="#000"/>
<line x1="707.5" y1="948" x2="707.5" y2="1118.75" stroke="#000" stroke-width="3"/>
<line x1="702.5" y1="948" x2="712.5" y2="948" stroke="#000" stroke-width="3"/>
<line x1="702.5" y1="1118.75" x2="712.5" y2="1118.75" stroke="#000" stroke-width="3"/>
<circle cx="707.5" cy="975.25" r="6" fill="#666666"/>
<circle cx="707.5" cy="994.75" r="6" fill="#666666"/>
<circle cx="707.5" cy="1131.5" r="6" fill="#666666"/>
<line x1="754.5" y1="951" x2="754.5" y2="1194" stroke="#000" stroke-width="3"/>
<circle cx="754.5" cy="951.25" r="6" fill="#666666"/>
<circle cx="754.5" cy="1074.25" r="6" fill="#666666"/>
<circle cx="754.5" cy="1194.25" r="6" fill="#666666"/>
<line x1="840.5" y1="965.75" x2="840.5" y2="1100.6" stroke="#000" stroke-width="3"/>
<line x1="835.5" y1="965.75" x2="845.5" y2="965.75" stroke="#000" stroke-width="3"/>
<line x1="835.5" y1="1100.6" x2="845.5" y2="1100.6" stroke="#000" stroke-width="3"/>
<circle cx="840.5" cy="994.75" r="6" fill="#666666"/>
<circle cx="840.5" cy="1111.25" r="6" fill="#666666"/>
<line x1="887.5" y1="1109.5" x2="887.5" y2="1148.5" stroke="#000" stroke-width="3"/>
<line x1="882.5" y1="1148.5" x2="892.5" y2="1148.5" stroke="#000" stroke-width="3"/>
<circle cx="887.5" cy="1109.5" r="6" fill="#666666"/>
<circle cx="887.5" cy="1136.25" r="6" fill="#666666"/>
<circle cx="887.5" cy="1143.75" r="6" fill="#666666"/>
<line x1="973.5" y1="1010" x2="973.5" y2="1042" stroke="#000" stroke-width="3"/>
<circle cx="973.5" cy="1010" r="6" fill="#666666"/>
<circle cx="973.5" cy="1018" r="6" fill="#666666"/>
<circle cx="973.5" cy="1042.5" r="6" fill="#666666"/>
<line x1="1020.5" y1="1068.75" x2="1020.5" y2="1167" stroke="#000" stroke-width="3"/>
<line x1="1015.5" y1="1068.75" x2="1025.5" y2="1068.75" stroke="#000" stroke-width="3"/>
<line x1="1015.5" y1="1167" x2="1025.5" y2="1167" stroke="#000" stroke-width="3"/>
<circle cx="1020.5" cy="1077" r="6" fill="#666666"/>
<circle cx="1020.5" cy="1105" r="6" fill="#666666"/>
<circle cx="1020.5" cy="1172.5" r="6" fill="#666666"/>
<rect x="805.8" y="772.9" width="48.6" height="23.8" fill="#92BEF8"/>
<rect x="805.8" y="834.2" width="48.6" height="23.9" fill="#FC9F9F"/>
<text transform="translate(881.63 797.3) scale(0.9500 1)" font-size="29.5" x="0 19.29 27.88 55.76 79.29">siCTL</text>
<text transform="translate(881.63 858.8) scale(0.9500 1)" font-size="29.5" x="0 18.87 27.26 58.68 83.87 106.89 129.91 150.85">siMETTL3</text>
<text transform="translate(512.7 1324.58) rotate(-90) scale(0.9523 1)" font-size="38.6" font-weight="bold">Relative expression</text>
<text transform="translate(651.04 1601.16) rotate(-45) scale(0.9600 1)" font-size="35" x="0 25.53 38.3 71.53 102.24 115.01">LINE 1</text>
<text transform="translate(804.71 1580.39) rotate(-45) scale(0.9600 1)" font-size="35" x="0 30.71 40.94 66.47 79.24">Alu S</text>
<text transform="translate(937.41 1580.39) rotate(-45) scale(0.9600 1)" font-size="35" x="0 30.71 40.94 66.47 79.24">Alu Y</text>
<rect x="1211.25" y="1018.75" width="28.75" height="426" fill="#92BEF8"/>
<rect x="1247" y="1339" width="28.5" height="105.75" fill="#FC9F9F"/>
<rect x="1310.5" y="1022" width="28.75" height="422.75" fill="#92BEF8"/>
<rect x="1346" y="971.25" width="28.75" height="473.5" fill="#FC9F9F"/>
<rect x="1409.5" y="1021.25" width="28.75" height="423.5" fill="#92BEF8"/>
<rect x="1445" y="1023.25" width="28.75" height="421.5" fill="#FC9F9F"/>
<rect x="1508.75" y="1017.5" width="28.75" height="427.25" fill="#92BEF8"/>
<rect x="1544.25" y="957.5" width="28.75" height="487.25" fill="#FC9F9F"/>
<rect x="1194.25" y="855.75" width="5.7" height="591.75" fill="#000"/>
<rect x="1180.75" y="1442" width="409.25" height="5.5" fill="#000"/>
<rect x="1180.75" y="1441.95" width="16.35" height="5.6" fill="#000"/>
<text transform="translate(1112.48 1459.85) scale(0.9300 1)" font-size="35" x="0 26.72 40.08">0.0</text>
<rect x="1180.75" y="1358.2" width="16.35" height="5.6" fill="#000"/>
<text transform="translate(1112.88 1376.1) scale(0.9300 1)" font-size="35" x="0 26.72 40.08">0.2</text>
<rect x="1180.75" y="1274.45" width="16.35" height="5.6" fill="#000"/>
<text transform="translate(1112.15 1292.35) scale(0.9300 1)" font-size="35" x="0 26.72 40.08">0.4</text>
<rect x="1180.75" y="1190.7" width="16.35" height="5.6" fill="#000"/>
<text transform="translate(1112.64 1208.6) scale(0.9300 1)" font-size="35" x="0 26.72 40.08">0.6</text>
<rect x="1180.75" y="1106.95" width="16.35" height="5.6" fill="#000"/>
<text transform="translate(1112.64 1124.85) scale(0.9300 1)" font-size="35" x="0 26.72 40.08">0.8</text>
<rect x="1180.75" y="1023.2" width="16.35" height="5.6" fill="#000"/>
<text transform="translate(1112.48 1041.1) scale(0.9300 1)" font-size="35" x="0 26.72 40.08">1.0</text>
<rect x="1180.75" y="939.45" width="16.35" height="5.6" fill="#000"/>
<text transform="translate(1112.88 957.35) scale(0.9300 1)" font-size="35" x="0 26.72 40.08">1.2</text>
<rect x="1180.75" y="855.7" width="16.35" height="5.6" fill="#000"/>
<text transform="translate(1112.15 873.6) scale(0.9300 1)" font-size="35" x="0 26.72 40.08">1.4</text>
<rect x="1240.1" y="1444.75" width="5.8" height="15.75" fill="#000"/>
<rect x="1339.1" y="1444.75" width="5.8" height="15.75" fill="#000"/>
<rect x="1438.1" y="1444.75" width="5.8" height="15.75" fill="#000"/>
<rect x="1536.7" y="1444.75" width="5.8" height="15.75" fill="#000"/>
<line x1="1225.5" y1="936.75" x2="1225.5" y2="1100.75" stroke="#000" stroke-width="3"/>
<line x1="1221.75" y1="936.75" x2="1229.25" y2="936.75" stroke="#000" stroke-width="3"/>
<line x1="1221.75" y1="1100.75" x2="1229.25" y2="1100.75" stroke="#000" stroke-width="3"/>
<circle cx="1225.5" cy="959.25" r="6" fill="#666666"/>
<circle cx="1225.5" cy="985.5" r="6" fill="#666666"/>
<circle cx="1225.5" cy="1112.5" r="6" fill="#666666"/>
<line x1="1261" y1="1320" x2="1261" y2="1360" stroke="#000" stroke-width="3"/>
<line x1="1257.25" y1="1320" x2="1264.75" y2="1320" stroke="#000" stroke-width="3"/>
<circle cx="1253.25" cy="1330.5" r="6" fill="#666666"/>
<circle cx="1268.25" cy="1325.75" r="6" fill="#666666"/>
<circle cx="1261" cy="1360" r="6" fill="#666666"/>
<line x1="1324.75" y1="984.5" x2="1324.75" y2="1055.5" stroke="#000" stroke-width="3"/>
<line x1="1321" y1="1055.5" x2="1328.5" y2="1055.5" stroke="#000" stroke-width="3"/>
<circle cx="1324.75" cy="984.5" r="6" fill="#666666"/>
<circle cx="1331.75" cy="1034.5" r="6" fill="#666666"/>
<circle cx="1317" cy="1047" r="6" fill="#666666"/>
<line x1="1360.25" y1="910" x2="1360.25" y2="1037.5" stroke="#000" stroke-width="3"/>
<line x1="1356.5" y1="910" x2="1364" y2="910" stroke="#000" stroke-width="3"/>
<circle cx="1360.25" cy="917" r="6" fill="#666666"/>
<circle cx="1360.25" cy="959.25" r="6" fill="#666666"/>
<circle cx="1360.25" cy="1037.5" r="6" fill="#666666"/>
<line x1="1423.75" y1="1005" x2="1423.75" y2="1036.25" stroke="#000" stroke-width="3"/>
<line x1="1420" y1="1036.25" x2="1427.5" y2="1036.25" stroke="#000" stroke-width="3"/>
<circle cx="1423.75" cy="1005" r="6" fill="#666666"/>
<circle cx="1416.5" cy="1030.5" r="6" fill="#666666"/>
<circle cx="1431.25" cy="1030" r="6" fill="#666666"/>
<line x1="1459.25" y1="1008.75" x2="1459.25" y2="1035.75" stroke="#000" stroke-width="3"/>
<line x1="1455.5" y1="1035.75" x2="1463" y2="1035.75" stroke="#000" stroke-width="3"/>
<circle cx="1459.25" cy="1008.75" r="6" fill="#666666"/>
<circle cx="1451.75" cy="1030.5" r="6" fill="#666666"/>
<circle cx="1466.5" cy="1030" r="6" fill="#666666"/>
<line x1="1523" y1="957" x2="1523" y2="1078" stroke="#000" stroke-width="3"/>
<line x1="1519.25" y1="957" x2="1526.75" y2="957" stroke="#000" stroke-width="3"/>
<line x1="1519.25" y1="1078" x2="1526.75" y2="1078" stroke="#000" stroke-width="3"/>
<circle cx="1523" cy="950.5" r="6" fill="#666666"/>
<circle cx="1523" cy="1035" r="6" fill="#666666"/>
<circle cx="1523" cy="1067.5" r="6" fill="#666666"/>
<line x1="1558" y1="885.75" x2="1558" y2="1028.75" stroke="#000" stroke-width="3"/>
<line x1="1554.25" y1="885.75" x2="1561.75" y2="885.75" stroke="#000" stroke-width="3"/>
<line x1="1554.25" y1="1028.75" x2="1561.75" y2="1028.75" stroke="#000" stroke-width="3"/>
<circle cx="1558" cy="906.25" r="6" fill="#666666"/>
<circle cx="1558" cy="927.5" r="6" fill="#666666"/>
<circle cx="1558" cy="1038.25" r="6" fill="#666666"/>
<rect x="1270.2" y="772.9" width="48.6" height="23.8" fill="#92BEF8"/>
<rect x="1270.2" y="834.2" width="48.6" height="23.9" fill="#FC9F9F"/>
<text transform="translate(1345.93 797.3) scale(0.9500 1)" font-size="29.5" x="0 19.32 27.91 55.83 79.4">siCTL</text>
<text transform="translate(1345.93 858.8) scale(0.9500 1)" font-size="29.5" x="0 18.91 27.32 58.8 84.04 107.11 130.18 151.17">siMETTL3</text>
<text transform="translate(1136.74 1618.21) rotate(-45) scale(0.9600 1)" font-size="35" x="0 38.3 69 97.06 125.13 150.66">METTL3</text>
<text transform="translate(1212.22 1641.73) rotate(-45) scale(0.9600 1)" font-size="35" x="0 33.24 63.94 97.18 127.89 158.59 184.12">RANBP17</text>
<text transform="translate(1337.33 1615.62) rotate(-45) scale(0.9600 1)" font-size="35" x="0 33.24 63.94 97.18 140.65">HECW1</text>
<text transform="translate(1431.33 1620.22) rotate(-45) scale(0.9600 1)" font-size="35" x="0 38.3 69 102.24 127.77 158.48">MAN2B2</text>
</svg>
</body>
</html>
